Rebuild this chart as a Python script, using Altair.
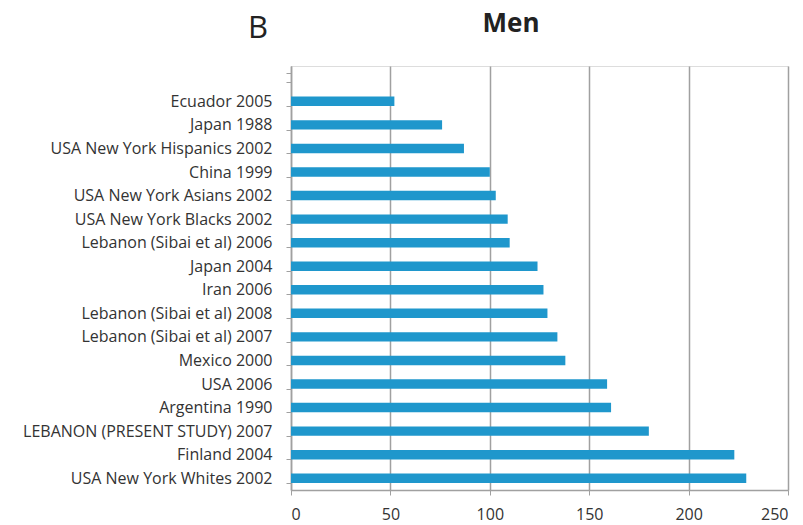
import altair as alt
import pandas as pd

countries = [
    "Ecuador 2005", "Japan 1988", "USA New York Hispanics 2002", "China 1999",
    "USA New York Asians 2002", "USA New York Blacks 2002", "Lebanon (Sibai et al) 2006",
    "Japan 2004", "Iran 2006", "Lebanon (Sibai et al) 2008", "Lebanon (Sibai et al) 2007",
    "Mexico 2000", "USA 2006", "Argentina 1990", "LEBANON (PRESENT STUDY) 2007",
    "Finland 2004", "USA New York Whites 2002",
]
values = [52, 76, 87, 100, 103, 109, 110, 124, 127, 129, 134, 138, 159, 161, 180, 223, 229]
x_ticks = [0, 50, 100, 150, 200, 250]

df = pd.DataFrame({"country": countries, "value": values})
# Excel-style empty category slot above the first bar
y_domain = [" "] + countries

W, H = 497, 424
font = "Open Sans"

bars = alt.Chart(df).mark_bar(color="#1f97cc").encode(
    x=alt.X("value:Q", scale=alt.Scale(domain=[0, 250], nice=False),
            axis=alt.Axis(values=x_ticks, title=None, grid=True, gridColor="#a0a0a0",
                          gridWidth=1.5, domainColor="#a0a0a0", domainWidth=1.5,
                          tickColor="#a0a0a0", tickSize=5, labelFontSize=16,
                          labelColor="#333333", labelFont=font, labelPadding=11)),
    y=alt.Y("country:N", sort=countries,
            scale=alt.Scale(domain=y_domain, paddingInner=0.6, paddingOuter=0.3),
            axis=alt.Axis(title=None, domainColor="#a0a0a0", domainWidth=1.5,
                          tickColor="#a0a0a0", tickSize=5, tickBand="extent",
                          labelFontSize=16, labelColor="#333333", labelFont=font,
                          labelPadding=14, labelLimit=400)),
)

men = alt.Chart(pd.DataFrame({"t": ["Men"]})).mark_text(
    fontSize=26, fontWeight="bold", font=font, color="#222222", baseline="middle", align="center"
).encode(text="t:N", x=alt.value(511 - 291), y=alt.value(24 - 66))

b = alt.Chart(pd.DataFrame({"t": ["B"]})).mark_text(
    fontSize=31, font=font, color="#222222", baseline="middle", align="center"
).encode(text="t:N", x=alt.value(258 - 291), y=alt.value(29 - 66))

chart = alt.layer(bars, men, b).properties(
    width=W, height=H,
    autosize=alt.AutoSizeParams(type="none"),
    padding={"left": 283, "top": 58, "right": 6, "bottom": 35},
).configure_view(stroke=None).configure(background="white")

chart.save("out.html", embed_options={"renderer": "svg", "actions": False})
